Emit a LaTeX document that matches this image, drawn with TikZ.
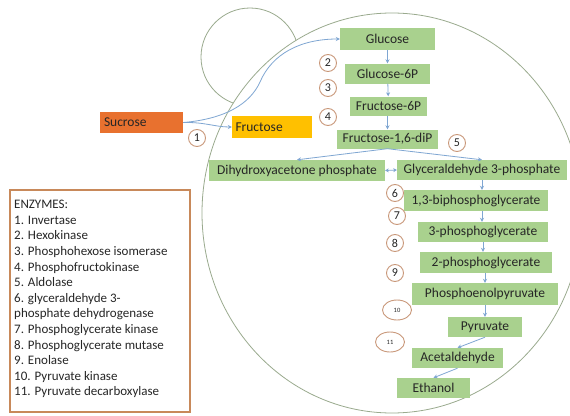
\documentclass[tikz,border=0pt]{standalone}
\usepackage{fontspec}
\setmainfont{Carlito}
\usetikzlibrary{arrows.meta,shapes.geometric}
\definecolor{boxgreen}{HTML}{A9D18E}
\definecolor{sucor}{HTML}{E8712F}
\definecolor{frugold}{HTML}{FFC000}
\definecolor{arrblue}{HTML}{7FA6D2}
\definecolor{numring}{HTML}{C9987A}
\definecolor{cellline}{HTML}{9AAA8E}
\definecolor{legline}{HTML}{C8895A}
\definecolor{txt}{HTML}{262626}
\tikzset{
  boxfont/.style={font=\fontsize{13.5}{15}\selectfont, text=txt},
  gbox/.style={boxfont, fill=boxgreen, draw=none, minimum height=20pt, inner sep=1pt},
  num/.style={circle, draw=numring, line width=0.9pt, fill=white, minimum size=17pt, inner sep=0pt, font=\fontsize{12}{13}\selectfont, text=txt},
  smallnum/.style={ellipse, draw=numring, line width=0.9pt, fill=white, minimum width=29pt, minimum height=20pt, inner sep=0pt, font=\fontsize{6.5}{7}\selectfont, text=txt},
  arr/.style={draw=arrblue, line width=0.8pt, -{Stealth[length=4pt,width=4pt]}},
}
\begin{document}
\begin{tikzpicture}[x=1pt,y=-1pt]
\useasboundingbox (0,0) rectangle (570,415);
\fill[white] (0,0) rectangle (570,415);
% cell outlines
\draw[cellline, line width=0.8pt] (392,213) ellipse [x radius=190, y radius=200];
\begin{scope}[even odd rule]
\clip (0,0) rectangle (570,415) (392,213) ellipse [x radius=190, y radius=200];
\draw[cellline, line width=0.8pt] (250,57) circle [radius=49];
\end{scope}

% boxes
\node[boxfont, fill=sucor, minimum width=83pt, minimum height=21pt, inner sep=0pt, text width=75pt, align=left] (suc) at (141.5,122.5) {Sucrose};
\node[boxfont, fill=frugold, minimum width=80pt, minimum height=22pt, inner sep=0pt, text width=73pt, align=left] (fru) at (272,127) {Fructose};
\node[gbox, minimum width=95pt, minimum height=22pt] (glu) at (387.5,39) {Glucose};
\node[gbox, minimum width=85pt] (g6p) at (387.5,73.5) {Glucose-6P};
\node[gbox, minimum width=77pt, minimum height=19pt] (f6p) at (388.5,106) {Fructose-6P};
\node[gbox, minimum width=101pt, minimum height=19pt] (f16) at (387.5,139) {Fructose-1,6-diP};
\node[gbox, minimum width=176pt, minimum height=21pt] (dhap) at (297,170.5) {Dihydroxyacetone phosphate};
\node[gbox, minimum width=170pt] (gap) at (482,170) {Glyceraldehyde 3-phosphate};
\node[gbox, minimum width=144pt, minimum height=21pt] (bpg) at (476,200.5) {1,3-biphosphoglycerate};
\node[gbox, minimum width=130pt] (pg3) at (483,232) {3-phosphoglycerate};
\node[gbox, minimum width=132pt, minimum height=21pt] (pg2) at (486,262.5) {2-phosphoglycerate};
\node[gbox, minimum width=146pt, minimum height=22pt] (pep) at (485,294) {Phosphoenolpyruvate};
\node[gbox, minimum width=74pt] (pyr) at (485,327) {Pyruvate};
\node[gbox, minimum width=91pt] (acet) at (457.5,358) {Acetaldehyde};
\node[gbox, minimum width=73pt] (eth) at (433.5,388) {Ethanol};

% connectors
\coordinate (sucmid) at (260,82);
\draw[arr] (suc.east) .. controls (225,119) and (250,104) .. (sucmid) .. controls (272,54) and (300,39) .. (glu.west);
\draw[arr] (suc.east) .. controls (205,122) and (215,127) .. (fru.west);
\draw[arr] (glu) -- (g6p);
\draw[arr] (g6p) -- (f6p);
\draw[arr] (f6p.south -| f16.north) -- (f16.north);
\draw[arr] (f16.south) -- (dhap.north);
\draw[arr] (f16.south) -- (gap.north);
\draw[draw=arrblue, line width=0.8pt, {Stealth[length=3.5pt,width=4pt]}-{Stealth[length=3.5pt,width=4pt]}] (dhap.east) -- (gap.west);
\draw[arr] (gap.south) -- (gap.south |- bpg.north);
\draw[arr] (gap.south |- bpg.south) -- (gap.south |- pg3.north);
\draw[arr] (pg3.south) -- (pg3.south |- pg2.north);
\draw[arr] (pep.north |- pg2.south) -- (pep.north);
\draw[arr] (pep.south) -- (pyr.north);
\draw[arr] (pyr.south) -- (acet.north);
\draw[arr] (acet.south) -- (eth.north);

% enzyme numbers
\node[num] (n1) at (197,138) {1};
\node[num] (n2) at (328,63) {2};
\node[num] (n3) at (328,88) {3};
\node[num] (n4) at (328,117) {4};
\node[num] (n5) at (457,143) {5};
\node[num] (n6) at (395,193) {6};
\node[num] (n7) at (397,216) {7};
\node[num] (n8) at (395,243) {8};
\node[num] (n9) at (395,273) {9};
\node[smallnum] (n10) at (397,310) {10};
\node[smallnum] (n11) at (390,342) {11};

% legend
\node[draw=legline, line width=1.6pt, minimum width=180pt, minimum height=222pt, inner sep=0pt] (leg) at (100,301) {};
\node[anchor=north west, align=left, inner sep=0pt, font=\fontsize{13}{15.6}\selectfont, text=txt] (legtext) at (14,200) {ENZYMES:\\
1. Invertase\\
2. Hexokinase\\
3. Phosphohexose isomerase\\
4. Phosphofructokinase\\
5. Aldolase\\
6. glyceraldehyde 3-\\
phosphate dehydrogenase\\
7. Phosphoglycerate kinase\\
8. Phosphoglycerate mutase\\
9. Enolase\\
10. Pyruvate kinase\\
11. Pyruvate decarboxylase};
\end{tikzpicture}
\end{document}
